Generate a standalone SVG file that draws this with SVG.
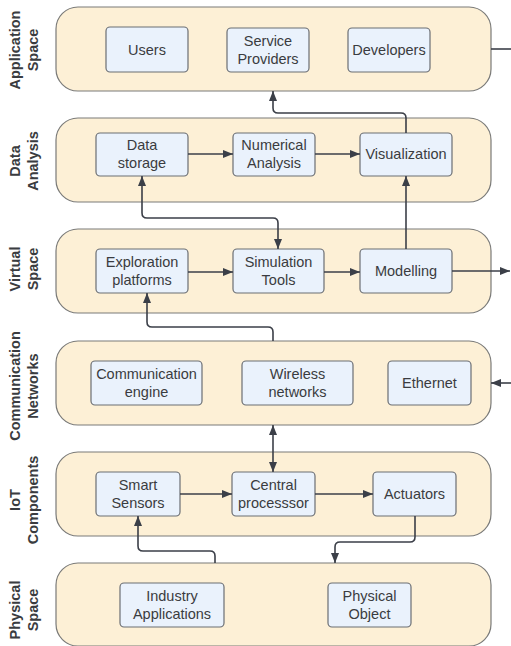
<svg xmlns="http://www.w3.org/2000/svg" width="511" height="646" viewBox="0 0 511 646">
<style>
.lane{fill:#fdf0d6;stroke:#7a7a78;stroke-width:1.2}
.node{fill:#eaf2fc;stroke:#6b6e73;stroke-width:1.2}
.nt{font-family:"Liberation Sans",Arial,sans-serif;font-size:14.5px;fill:#3a3c40;text-anchor:middle}
.lt{font-family:"Liberation Sans",Arial,sans-serif;font-size:14.5px;font-weight:bold;fill:#3a3c40;text-anchor:middle}
.c{fill:none;stroke:#3b3f48;stroke-width:1.6}
</style>
<defs>
<marker id="ah" viewBox="0 0 10 8" markerWidth="10" markerHeight="8" refX="10" refY="4" orient="auto-start-reverse" markerUnits="userSpaceOnUse">
<path d="M0,0 L10,4 L0,8 z" fill="#3b3f48"/>
</marker>
</defs>

<g id="lane-application">
<rect class="lane" x="56" y="7" width="435" height="84" rx="22"/>
<text class="lt" transform="translate(20,50) rotate(-90)"><tspan x="0" y="0">Application</tspan><tspan x="0" y="18">Space</tspan></text>
</g>
<g id="lane-data">
<rect class="lane" x="56" y="118" width="435" height="84" rx="22"/>
<text class="lt" transform="translate(20,161) rotate(-90)"><tspan x="0" y="0">Data</tspan><tspan x="0" y="18">Analysis</tspan></text>
</g>
<g id="lane-virtual">
<rect class="lane" x="56" y="229" width="435" height="84" rx="22"/>
<text class="lt" transform="translate(20,269) rotate(-90)"><tspan x="0" y="0">Virtual</tspan><tspan x="0" y="18">Space</tspan></text>
</g>
<g id="lane-comm">
<rect class="lane" x="56" y="341" width="435" height="84" rx="22"/>
<text class="lt" transform="translate(20,386) rotate(-90)"><tspan x="0" y="0">Communication</tspan><tspan x="0" y="18">Networks</tspan></text>
</g>
<g id="lane-iot">
<rect class="lane" x="56" y="452" width="435" height="84" rx="22"/>
<text class="lt" transform="translate(20,500) rotate(-90)"><tspan x="0" y="0">IoT</tspan><tspan x="0" y="18">Components</tspan></text>
</g>
<g id="lane-physical">
<rect class="lane" x="56" y="563" width="435" height="83" rx="22"/>
<text class="lt" transform="translate(20,610) rotate(-90)"><tspan x="0" y="0">Physical</tspan><tspan x="0" y="18">Space</tspan></text>
</g>

<g id="users"><rect class="node" x="106" y="27" width="82" height="45" rx="4"/><text class="nt" x="147" y="54.5">Users</text></g>
<g id="service-providers"><rect class="node" x="227" y="28" width="82" height="44" rx="4"/><text class="nt" x="268" y="46">Service</text><text class="nt" x="268" y="64">Providers</text></g>
<g id="developers"><rect class="node" x="348" y="28" width="82" height="44" rx="4"/><text class="nt" x="389" y="55">Developers</text></g>

<g id="data-storage"><rect class="node" x="96" y="133" width="92" height="43" rx="4"/><text class="nt" x="142" y="150">Data</text><text class="nt" x="142" y="168">storage</text></g>
<g id="numerical-analysis"><rect class="node" x="233" y="133" width="82" height="43" rx="4"/><text class="nt" x="274" y="150">Numerical</text><text class="nt" x="274" y="168">Analysis</text></g>
<g id="visualization"><rect class="node" x="360" y="133" width="92" height="43" rx="4"/><text class="nt" x="406" y="159">Visualization</text></g>

<g id="exploration-platforms"><rect class="node" x="96" y="249" width="92" height="44" rx="4"/><text class="nt" x="142" y="267">Exploration</text><text class="nt" x="142" y="285">platforms</text></g>
<g id="simulation-tools"><rect class="node" x="233" y="249" width="91" height="44" rx="4"/><text class="nt" x="278.5" y="267">Simulation</text><text class="nt" x="278.5" y="285">Tools</text></g>
<g id="modelling"><rect class="node" x="360" y="249" width="92" height="44" rx="4"/><text class="nt" x="406" y="276">Modelling</text></g>

<g id="communication-engine"><rect class="node" x="91" y="361" width="111" height="44" rx="4"/><text class="nt" x="146.5" y="379">Communication</text><text class="nt" x="146.5" y="397">engine</text></g>
<g id="wireless-networks"><rect class="node" x="242" y="361" width="111" height="44" rx="4"/><text class="nt" x="297.5" y="379">Wireless</text><text class="nt" x="297.5" y="397">networks</text></g>
<g id="ethernet"><rect class="node" x="388" y="361" width="83" height="44" rx="4"/><text class="nt" x="429.5" y="388">Ethernet</text></g>

<g id="smart-sensors"><rect class="node" x="96" y="472" width="84" height="44" rx="4"/><text class="nt" x="138" y="490">Smart</text><text class="nt" x="138" y="508">Sensors</text></g>
<g id="central-processor"><rect class="node" x="232" y="472" width="83" height="44" rx="4"/><text class="nt" x="273.5" y="490">Central</text><text class="nt" x="273.5" y="508">processsor</text></g>
<g id="actuators"><rect class="node" x="373" y="472" width="83" height="44" rx="4"/><text class="nt" x="414.5" y="499">Actuators</text></g>

<g id="industry-applications"><rect class="node" x="120" y="583" width="104" height="44" rx="4"/><text class="nt" x="172" y="601">Industry</text><text class="nt" x="172" y="619">Applications</text></g>
<g id="physical-object"><rect class="node" x="328" y="583" width="83" height="44" rx="4"/><text class="nt" x="369.5" y="601">Physical</text><text class="nt" x="369.5" y="619">Object</text></g>

<g id="connectors">
<path class="c" d="M491,49 H511"/>
<path class="c" d="M406,133 V118 Q406,113 401,113 H278 Q273,113 273,108 V91" marker-end="url(#ah)"/>
<path class="c" d="M188,154 H233" marker-end="url(#ah)"/>
<path class="c" d="M315,154 H360" marker-end="url(#ah)"/>
<path class="c" d="M406,249 V176" marker-end="url(#ah)"/>
<path class="c" d="M142,176 V213 Q142,218 147,218 H273 Q278,218 278,223 V249" marker-start="url(#ah)" marker-end="url(#ah)"/>
<path class="c" d="M188,272 H233" marker-end="url(#ah)"/>
<path class="c" d="M324,272 H360" marker-end="url(#ah)"/>
<path class="c" d="M452,271 H510" marker-end="url(#ah)"/>
<path class="c" d="M273,341 V332 Q273,327 268,327 H152 Q147,327 147,322 V293" marker-end="url(#ah)"/>
<path class="c" d="M511,383 H491" marker-end="url(#ah)"/>
<path class="c" d="M273,425 V472" marker-start="url(#ah)" marker-end="url(#ah)"/>
<path class="c" d="M180,494 H232" marker-end="url(#ah)"/>
<path class="c" d="M315,494 H373" marker-end="url(#ah)"/>
<path class="c" d="M215,563 V556 Q215,551 210,551 H143 Q138,551 138,546 V516" marker-end="url(#ah)"/>
<path class="c" d="M415,516 V537 Q415,542 410,542 H340 Q335,542 335,547 V563" marker-end="url(#ah)"/>
</g>
</svg>
